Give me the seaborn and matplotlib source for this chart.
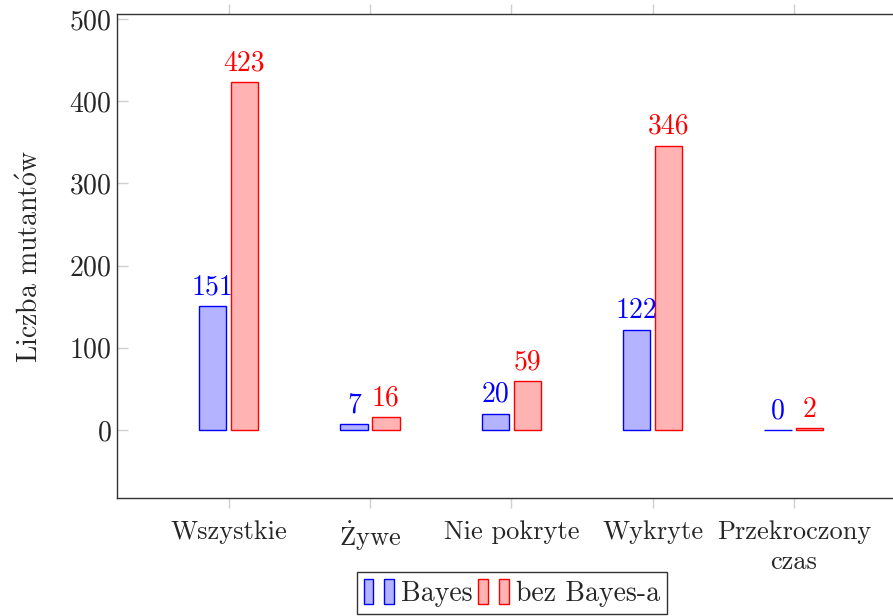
import pandas as pd
import numpy as np
import matplotlib
matplotlib.use('Agg')
import matplotlib.pyplot as plt
import seaborn as sns
from matplotlib.patches import Rectangle
from matplotlib.legend_handler import HandlerTuple

# dane
kategorie = ['Wszystkie', r'$\dot{\mathrm{Z}}$ywe', 'Nie pokryte', 'Wykryte', 'Przekroczony\nczas']
bayes = [151, 7, 20, 122, 0]
bez_bayes = [423, 16, 59, 346, 2]
serie = ['Bayes', 'bez Bayes-a']

sns.set_style('white')
plt.rcParams['font.family'] = ['cmr10', 'DejaVu Serif']
plt.rcParams['mathtext.fontset'] = 'cm'
plt.rcParams['axes.formatter.use_mathtext'] = True

FS = 20

df = pd.DataFrame({
    'kategoria': list(range(len(kategorie))) * 2,
    'wartosc': bayes + bez_bayes,
    'seria': [serie[0]] * len(bayes) + [serie[1]] * len(bez_bayes),
})

kolory_fill = {'Bayes': (0.7, 0.7, 1.0), 'bez Bayes-a': (1.0, 0.7, 0.7)}
kolory_edge = {'Bayes': (0, 0, 1), 'bez Bayes-a': (1, 0, 0)}

fig = plt.figure(figsize=(8.93, 6.16), dpi=100)
ax = fig.add_axes([0.131, 0.1916, 0.872, 0.7857])

sns.barplot(data=df, x='kategoria', y='wartosc', hue='seria', palette=kolory_fill,
            saturation=1, width=0.45, gap=0.14, ax=ax, legend=False, native_scale=True)

for cont, s in zip(ax.containers, serie):
    for p in cont:
        p.set_edgecolor(kolory_edge[s])
        p.set_linewidth(1.0)
    ax.bar_label(cont, labels=[str(int(v)) for v in cont.datavalues],
                 padding=4, color=kolory_edge[s], fontsize=FS)

ax.set_xlim(-0.79, 4.72)
ax.set_ylim(-82.7, 506)
ax.set_yticks(np.arange(0, 501, 100))
ax.set_xticks(range(len(kategorie)))
ax.set_xticklabels(kategorie, fontsize=FS * 0.95, linespacing=1.35)
ax.tick_params(axis='y', labelsize=FS, direction='in', length=8, width=1,
               color='#d0d0d0', left=True, pad=4)
ax.tick_params(axis='x', direction='out', length=7, width=1, color='#d0d0d0',
               bottom=True, top=True, pad=9)
ax.set_xlabel('')
ax.set_ylabel(r'Liczba mutant$\acute{\mathrm{o}}$w', fontsize=FS, labelpad=18)

for sp in ax.spines.values():
    sp.set_color('#333333')
    sp.set_linewidth(1.0)

uchwyty = []
for s in serie:
    a = Rectangle((0, 0), 1, 1, facecolor=kolory_fill[s], edgecolor=kolory_edge[s], lw=1)
    b = Rectangle((0, 0), 1, 1, facecolor=kolory_fill[s], edgecolor=kolory_edge[s], lw=1)
    uchwyty.append((a, b))
leg = ax.legend(uchwyty, serie, handler_map={tuple: HandlerTuple(ndivide=None, pad=0.4)},
                loc='upper center', bbox_to_anchor=(0.507, -0.153), borderaxespad=0,
                ncol=2, fontsize=FS, frameon=True, fancybox=False, handlelength=1.1,
                handleheight=1.0, handletextpad=0.25, columnspacing=0.2,
                borderpad=0.25)
leg.get_frame().set_edgecolor('black')
leg.get_frame().set_linewidth(1.0)

fig.savefig('out.png', dpi=100)
